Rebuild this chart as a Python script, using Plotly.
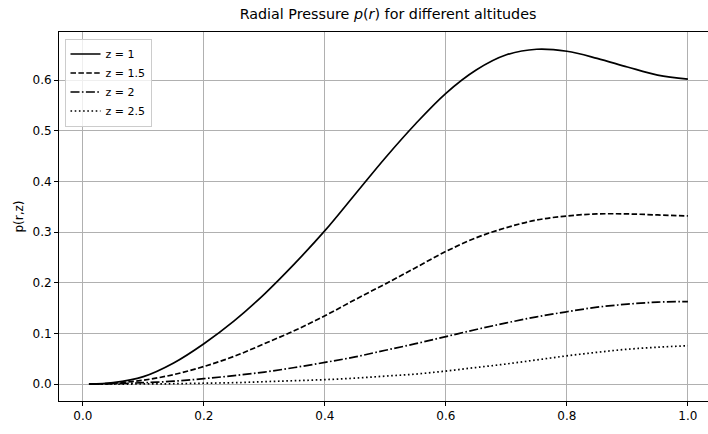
import plotly.graph_objects as go

r_values = [0.01, 0.05, 0.10, 0.15, 0.20, 0.25, 0.30, 0.35, 0.40, 0.45, 0.50,
            0.55, 0.60, 0.65, 0.70, 0.75, 0.80, 0.85, 0.90, 0.95, 1.00]

p_z1 = [0.000, 0.003, 0.015, 0.042, 0.080, 0.125, 0.178, 0.238, 0.303, 0.375, 0.447,
        0.514, 0.574, 0.620, 0.650, 0.661, 0.657, 0.643, 0.626, 0.610, 0.602]
p_z15 = [0.000, 0.002, 0.008, 0.019, 0.035, 0.055, 0.080, 0.106, 0.135, 0.167, 0.198,
         0.230, 0.262, 0.289, 0.309, 0.324, 0.332, 0.336, 0.336, 0.334, 0.332]
p_z2 = [0.000, 0.001, 0.003, 0.006, 0.011, 0.017, 0.024, 0.033, 0.043, 0.054, 0.067,
        0.080, 0.094, 0.108, 0.121, 0.133, 0.143, 0.152, 0.158, 0.162, 0.163]
p_z25 = [0.000, 0.0002, 0.0005, 0.001, 0.002, 0.003, 0.005, 0.007, 0.009, 0.012, 0.016,
         0.020, 0.026, 0.033, 0.040, 0.048, 0.056, 0.063, 0.069, 0.073, 0.076]

series_names = ["z = 1", "z = 1.5", "z = 2", "z = 2.5"]
series_values = [p_z1, p_z15, p_z2, p_z25]
dashes = ["solid", "5.5px,2.4px", "9px,2.4px,1.6px,2.4px", "1.6px,2.6px"]

x_ticks = [0.0, 0.2, 0.4, 0.6, 0.8, 1.0]
y_ticks = [0.0, 0.1, 0.2, 0.3, 0.4, 0.5, 0.6]

FONT = "DejaVu Sans"

fig = go.Figure()
for name, vals, dash in zip(series_names, series_values, dashes):
    fig.add_trace(go.Scatter(
        x=r_values, y=vals, mode="lines", name=name,
        line=dict(color="black", width=1.7, dash=dash, shape="spline", smoothing=1.0),
    ))

W, H = 730, 434
L, R, T, B = 59, 0, 32, 33
PW, PH = W - L - R, H - T - B
PX_PER_R = 605.0
X0 = -0.0395

fig.update_layout(
    width=W, height=H,
    margin=dict(l=L, r=R, t=T, b=B, pad=0, autoexpand=False),
    paper_bgcolor="white", plot_bgcolor="white",
    font=dict(family=FONT, size=12, color="black"),
    title=dict(
        text="Radial Pressure <i>p</i>(<i>r</i>) for different altitudes",
        x=388 / W, xanchor="center", xref="container",
        y=1 - 14 / H, yanchor="middle", yref="container",
        font=dict(family=FONT, size=14.3, color="black"),
    ),
    showlegend=True,
    legend=dict(
        x=(64.5 - L) / PW, y=1 - (38.5 - T) / PH, xanchor="left", yanchor="top",
        bgcolor="rgba(255,255,255,0.8)", bordercolor="#cccccc", borderwidth=1,
        font=dict(family=FONT, size=11, color="black"),
        itemwidth=30, tracegroupgap=0,
    ),
    xaxis=dict(
        range=[X0, X0 + PW / PX_PER_R], tickvals=x_ticks,
        ticktext=[f"{v:.1f}" for v in x_ticks], automargin=False,
        showgrid=True, gridcolor="#b0b0b0", gridwidth=0.8,
        zeroline=False, showline=True, linecolor="black", linewidth=0.9, mirror=True,
        ticks="outside", ticklen=4, tickwidth=0.9, tickcolor="black",
        tickfont=dict(family=FONT, size=12, color="black"),
    ),
    yaxis=dict(
        range=[-0.0331, 0.695], tickvals=y_ticks,
        ticktext=[f"{v:.1f}" for v in y_ticks], automargin=False,
        showgrid=True, gridcolor="#b0b0b0", gridwidth=0.8,
        zeroline=False, showline=True, linecolor="black", linewidth=0.9, mirror=False,
        ticks="outside", ticklen=4, tickwidth=0.9, tickcolor="black",
        tickfont=dict(family=FONT, size=12, color="black"),
    ),
    annotations=[
        dict(text="p(r,z)", textangle=-90, xref="paper", yref="paper",
             x=(18 - L) / PW, y=0.5, xanchor="center", yanchor="middle",
             showarrow=False, font=dict(family=FONT, size=12, color="black")),
        dict(text="r", xref="x", yref="paper",
             x=0.504, y=-(437 - (H - B)) / PH, xanchor="center", yanchor="middle",
             showarrow=False, font=dict(family=FONT, size=12, color="black")),
    ],
)

fig.write_html(
    "out.html",
    config={"displayModeBar": False},
    post_script="document.documentElement.style.overflow='hidden';document.body.style.margin='0';document.body.style.overflow='hidden';",
)
